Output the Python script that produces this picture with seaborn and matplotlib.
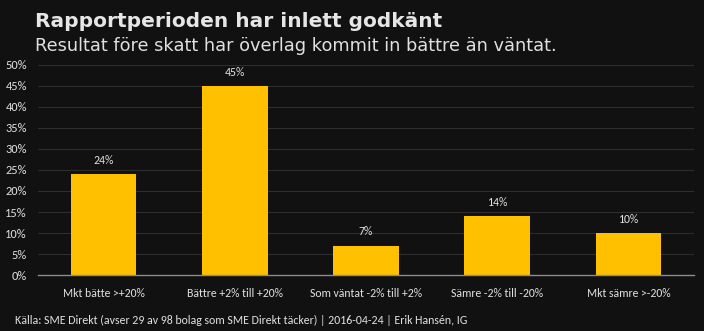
import matplotlib
matplotlib.use("Agg")
import matplotlib.pyplot as plt
import seaborn as sns
import pandas as pd
from matplotlib.ticker import PercentFormatter
from matplotlib import font_manager

categories = ["Mkt bätte >+20%", "Bättre +2% till +20%", "Som väntat -2% till +2%",
              "Sämre -2% till -20%", "Mkt sämre >-20%"]
values = [24, 45, 7, 14, 10]
yticks = [0, 5, 10, 15, 20, 25, 30, 35, 40, 45, 50]

title = "Rapportperioden har inlett godkänt"
subtitle = "Resultat före skatt har överlag kommit in bättre än väntat."
source = "Källa: SME Direkt (avser 29 av 98 bolag som SME Direkt täcker) | 2016-04-24 | Erik Hansén, IG"

bg = "#111111"
bar_color = "#FFC000"
text_color = "#E0E0E0"

sns.set_theme(style="dark")
plt.rcParams['font.family'] = ['DejaVu Sans']

names = {f.name for f in font_manager.fontManager.ttflist}
label_font = "Carlito" if "Carlito" in names else "Open Sans"

df = pd.DataFrame({"cat": categories, "val": values})

fig = plt.figure(figsize=(7.04, 3.31), dpi=100, facecolor=bg)
ax = fig.add_axes([0.054, 0.169, 0.932, 0.635])
ax.set_facecolor(bg)

sns.barplot(data=df, x="cat", y="val", color=bar_color, width=0.5, ax=ax,
            saturation=1, linewidth=0, edgecolor="none")

ax.set_ylim(0, 50)
ax.set_yticks(yticks)
ax.yaxis.set_major_formatter(PercentFormatter(decimals=0))
ax.grid(axis="y", color="#2E2E2E", linewidth=0.8)
ax.grid(axis="x", visible=False)
ax.set_axisbelow(True)
for s in ["top", "right", "left"]:
    ax.spines[s].set_visible(False)
ax.spines["bottom"].set_color("#8C8C8C")
ax.spines["bottom"].set_linewidth(1)
ax.set_xlabel("")
ax.set_ylabel("")
ax.tick_params(axis="y", length=0, colors=text_color, labelsize=8.9, pad=8)
ax.tick_params(axis="x", length=0, colors=text_color, labelsize=8.5, pad=9)
for lab in ax.get_yticklabels() + ax.get_xticklabels():
    lab.set_family(label_font)

for p, v in zip(ax.patches, values):
    ax.annotate(f"{v}%", (p.get_x() + p.get_width() / 2, p.get_height()),
                xytext=(0, 6), textcoords="offset points", ha="center", va="bottom",
                color=text_color, fontsize=8.5, family=label_font)

fig.text(0.05, 0.935, title, color="#E6E6E6", fontsize=14.5, fontweight="bold",
         va="center", ha="left")
fig.text(0.05, 0.862, subtitle, color="#E0E0E0", fontsize=12.8, va="center", ha="left")
fig.text(0.021, 0.033, source, color=text_color, fontsize=8.6, va="center", ha="left",
         family=label_font)

fig.savefig("out.png", dpi=100, facecolor=bg)
